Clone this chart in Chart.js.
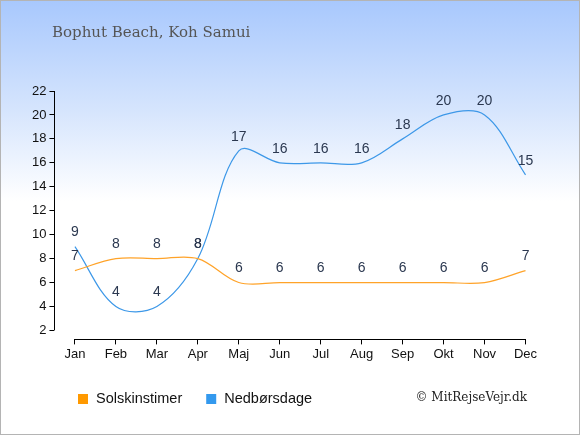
<!DOCTYPE html>
<html><head><meta charset="utf-8">
<script src="https://cdn.jsdelivr.net/npm/chart.js@4/dist/chart.umd.min.js"></script>
<style>
html,body{margin:0;padding:0;}
#wrap{position:relative;width:578px;height:433px;border:1px solid #b4b4b4;background:linear-gradient(to bottom,#a8c8fd 0px,#d6e5fd 110px,#ffffff 200px,#ffffff 433px);}
canvas{position:absolute;left:0;top:0;}
</style></head>
<body><div id="wrap"><canvas id="c" width="578" height="433"></canvas></div>
<script>
const title = "Bophut Beach, Koh Samui";
const months = ["Jan","Feb","Mar","Apr","Maj","Jun","Jul","Aug","Sep","Okt","Nov","Dec"];
const sunHours = [7,8,8,8,6,6,6,6,6,6,6,7];
const rainDays = [9,4,4,8,17,16,16,16,18,20,20,15];
const yTicks = [2,4,6,8,10,12,14,16,18,20,22];
const seriesNames = ["Solskinstimer","Nedbørsdage"];
const seriesColors = ["#ff9900","#3399ee"];
const lineColors = ["#ffa329","#3d98e8"];
const credit = "© MitRejseVejr.dk";

const extras = {
  id:'extras',
  afterDatasetsDraw(chart){
    const ctx = chart.ctx, x = chart.scales.x, y = chart.scales.y;
    ctx.save();
    // axes lines
    ctx.strokeStyle = '#000'; ctx.lineWidth = 1;
    ctx.beginPath();
    const ax = Math.round(chart.chartArea.left)+0.5;
    ctx.moveTo(ax, y.getPixelForValue(yTicks[yTicks.length-1]));
    ctx.lineTo(ax, y.getPixelForValue(yTicks[0]));
    const by = Math.round(chart.chartArea.bottom)+0.5;
    ctx.moveTo(x.getPixelForValue(0), by);
    ctx.lineTo(x.getPixelForValue(months.length-1), by);
    ctx.stroke();
    // data labels
    ctx.fillStyle = '#2b3850';
    ctx.font = '14px "Liberation Sans", Arial, sans-serif';
    ctx.textAlign = 'center'; ctx.textBaseline = 'middle';
    chart.data.datasets.forEach((ds,i)=>{
      const meta = chart.getDatasetMeta(i);
      meta.data.forEach((pt,j)=>{
        ctx.fillText(String(ds.data[j]), pt.x, pt.y - 14);
      });
    });
    // title
    ctx.fillStyle = '#555';
    ctx.font = '15px "DejaVu Serif", Georgia, serif';
    ctx.textAlign = 'left';
    ctx.fillText(title, 51, 32);
    // legend
    ctx.font = '14.5px "Liberation Sans", Arial, sans-serif';
    let lx = 77;
    const ly = 398;
    chart.data.datasets.forEach((ds,i)=>{
      ctx.fillStyle = seriesColors[i];
      ctx.fillRect(lx, ly-5, 10, 10);
      ctx.fillStyle = '#111';
      ctx.textAlign = 'left';
      ctx.fillText(ds.label, lx+18, ly);
      lx += 18 + ctx.measureText(ds.label).width + 24;
    });
    // credit
    ctx.fillStyle = '#222';
    ctx.font = '12px "DejaVu Serif", Georgia, serif';
    ctx.textAlign = 'right';
    ctx.fillText(credit, 526, 397);
    ctx.restore();
  }
};

new Chart(document.getElementById('c'), {
  type:'line',
  data:{
    labels: months,
    datasets:[
      {label:seriesNames[0], data:sunHours, borderColor:lineColors[0], borderWidth:1.2, pointRadius:0, tension:0.35, fill:false},
      {label:seriesNames[1], data:rainDays, borderColor:lineColors[1], borderWidth:1.2, pointRadius:0, tension:0.35, fill:false}
    ]
  },
  plugins:[extras],
  options:{
    responsive:false, animation:false,
    layout:{padding:{left:28, right:33, top:90, bottom:70}},
    plugins:{ title:{display:false}, tooltip:{enabled:false}, legend:{display:false} },
    scales:{
      x:{offset:true, border:{display:false},
        grid:{drawOnChartArea:false, drawTicks:true, tickLength:5, color:'#000', offset:false},
        ticks:{color:'#111', padding:2, font:{size:13, family:'"Liberation Sans", Arial, sans-serif'}, maxRotation:0, autoSkip:false}},
      y:{min:1.25, max:22, border:{display:false},
        afterBuildTicks(s){ s.ticks = yTicks.map(v=>({value:v})); },
        grid:{drawOnChartArea:false, drawTicks:true, tickLength:5, color:'#000'},
        ticks:{color:'#111', padding:3, font:{size:13, family:'"Liberation Sans", Arial, sans-serif'}}}
    }
  }
});
</script></body></html>
